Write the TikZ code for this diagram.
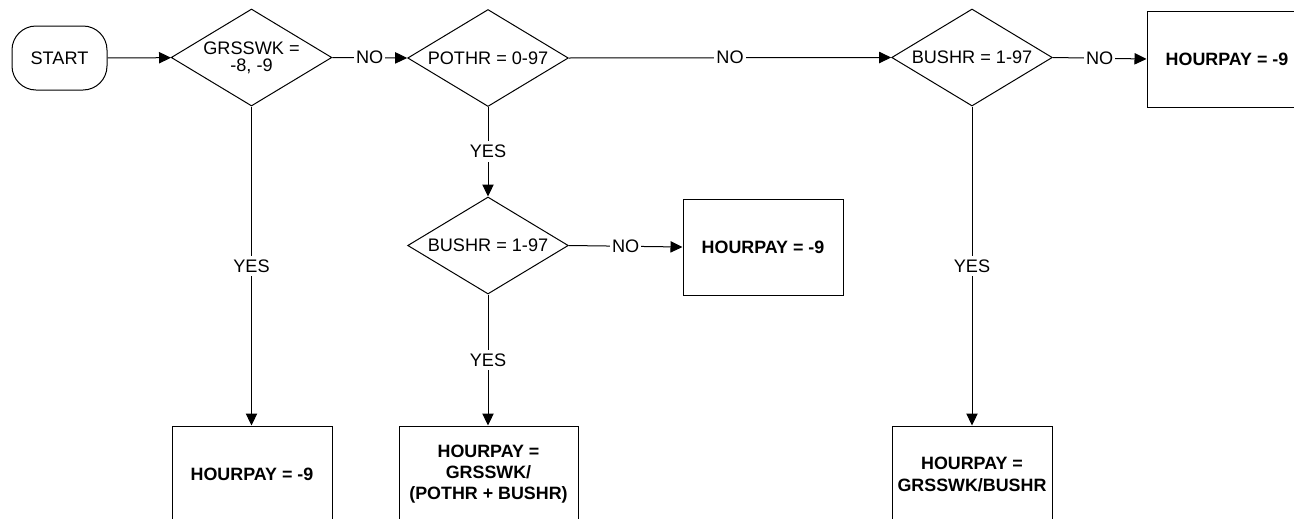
\documentclass[tikz,border=0pt]{standalone}
\usepackage{fontspec}
\setmainfont{Liberation Sans}
\usetikzlibrary{shapes.geometric,arrows.meta}
\begin{document}
\begin{tikzpicture}[x=0.75pt,y=-0.75pt,
  every node/.style={font=\fontsize{13.6}{15.5}\selectfont},
  conn/.style={draw=black,line width=0.75pt},
  arr/.style={conn,-{Triangle[length=9pt,width=8.5pt]}},
  startbox/.style={draw,line width=0.75pt,rounded corners=18pt,minimum width=71.25pt,minimum height=48pt,inner sep=0pt},
  decision/.style={draw,line width=0.75pt,shape=diamond,aspect=1.66,inner sep=0pt,minimum width=120.5pt,minimum height=72.75pt,align=center},
  resultbox/.style={draw,line width=0.75pt,minimum width=120pt,minimum height=72pt,inner sep=2pt,align=center,font=\fontsize{13.4}{15.5}\selectfont\bfseries},
  lbl/.style={fill=white,inner xsep=1.5pt,inner ysep=1pt},
  vlbl/.style={fill=white,inner xsep=1.5pt,inner ysep=3pt}]
\useasboundingbox (0,0) rectangle (1294,518);
\clip (0,0) rectangle (1294,518);
\node[startbox] (start) at (59.5,58) {START};
\node[decision,font=\fontsize{13.6}{12.8}\selectfont] (d1) at (251.5,57.5) {GRSSWK =\\-8, -9};
\node[decision] (d2) at (488,58) {POTHR = 0-97};
\node[decision] (d3) at (972,57.5) {BUSHR = 1-97};
\node[decision] (d4) at (488,245.5) {BUSHR = 1-97};
\node[resultbox] (b1) at (1227,59) {HOURPAY = -9};
\node[resultbox] (b2) at (763,247) {HOURPAY = -9};
\node[resultbox] (b3) at (252,474) {HOURPAY = -9};
\node[resultbox,minimum width=134.25pt] (b4) at (488.5,474) {HOURPAY =\\GRSSWK/\\(POTHR + BUSHR)};
\node[resultbox,font=\fontsize{13.4}{16.5}\selectfont\bfseries] (b5) at (972,474) {HOURPAY =\\GRSSWK/BUSHR};
\draw[arr] (start) -- (d1);
\draw[arr] (d1.east) -- node[lbl] {NO} (d2.west);
\draw[arr] (d2.east) -- node[lbl] {NO} (d3.west);
\draw[arr] (d3.east) -- node[lbl] {NO} (b1.west);
\draw[arr] (d4.east) -- node[lbl] {NO} (b2.west);
\draw[arr] (d1.south) -- node[vlbl] {YES} (d1.south |- b3.north);
\draw[arr] (d2.south) -- node[vlbl] {YES} (d4.north);
\draw[arr] (d4.south) -- node[vlbl] {YES} (d4.south |- b4.north);
\draw[arr] (d3.south) -- node[vlbl] {YES} (d3.south |- b5.north);
\end{tikzpicture}
\end{document}
